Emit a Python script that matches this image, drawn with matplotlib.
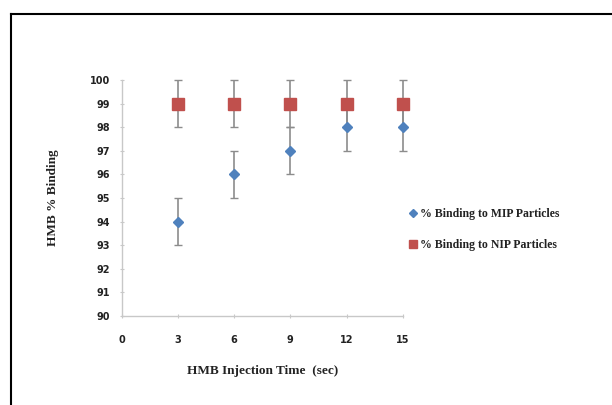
import matplotlib
matplotlib.use("Agg")
from matplotlib import pyplot as plt
from matplotlib.lines import Line2D

# data
times = [3, 6, 9, 12, 15]
mip_binding = [94, 96, 97, 98, 98]
mip_err = [1, 1, 1, 1, 1]
nip_binding = [99, 99, 99, 99, 99]
nip_err = [1, 1, 1, 1, 1]
x_ticks = [0, 3, 6, 9, 12, 15]
y_ticks = list(range(90, 101))

fig = plt.figure(figsize=(6.12, 4.05), dpi=100)
ax = fig.add_axes([0.199, 0.220, 0.459, 0.582])

err_style = dict(ecolor="#8c8c8c", elinewidth=1.2, capsize=3, capthick=1.0, linestyle="none")
nip = ax.errorbar(times, nip_binding, yerr=nip_err, marker="s", markersize=8,
                  color="#C0504D", markeredgecolor="#C0504D", **err_style)
mip = ax.errorbar(times, mip_binding, yerr=mip_err, marker="D", markersize=5,
                  color="#4F81BD", markeredgecolor="#4F81BD", **err_style)
for container in (nip, mip):
    for art in container.get_children():
        art.set_clip_on(False)

ax.set_xlim(0, 15)
ax.set_ylim(90, 100)
ax.set_xticks(x_ticks)
ax.set_yticks(y_ticks)

tick_font = dict(family="DejaVu Sans", weight="bold", size=7, color="#222222")
ax.set_xticklabels([str(t) for t in x_ticks], **tick_font)
ax.set_yticklabels([str(t) for t in y_ticks], **tick_font)

for side in ["top", "right"]:
    ax.spines[side].set_visible(False)
for side in ["left", "bottom"]:
    ax.spines[side].set_color("#c8c8c8")
    ax.spines[side].set_linewidth(1.0)
ax.tick_params(axis="both", colors="#c8c8c8", length=3, width=0.8, direction="inout")
ax.tick_params(axis="x", pad=12, labelcolor="#222222")
ax.tick_params(axis="y", pad=7, labelcolor="#222222")

label_font = dict(family="Liberation Serif", weight="bold", size=9.5, color="#222222")
ax.set_xlabel("HMB Injection Time  (sec)", labelpad=15, **label_font)
ax.set_ylabel("HMB % Binding", labelpad=22, **label_font)

# legend to the right of the plot
handles = [
    Line2D([], [], marker="D", markersize=4, color="#4F81BD", linestyle="none"),
    Line2D([], [], marker="s", markersize=6, color="#C0504D", linestyle="none"),
]
leg = fig.legend(handles, ["% Binding to MIP Particles", "% Binding to NIP Particles"],
                 loc="center left", bbox_to_anchor=(0.652, 0.433), frameon=False,
                 handlelength=0.6, handletextpad=0.3, labelspacing=1.65,
                 prop=dict(family="Liberation Serif", weight="bold", size=8.5))
for t in leg.get_texts():
    t.set_color("#222222")

# outer frame (left and top edges only)
fig.add_artist(Line2D([0.0172, 0.0172], [0.0, 0.9642], color="black", linewidth=1.5,
                      transform=fig.transFigure))
fig.add_artist(Line2D([0.0172, 1.0], [0.9642, 0.9642], color="black", linewidth=1.5,
                      transform=fig.transFigure))

fig.savefig("out.png", dpi=100)
